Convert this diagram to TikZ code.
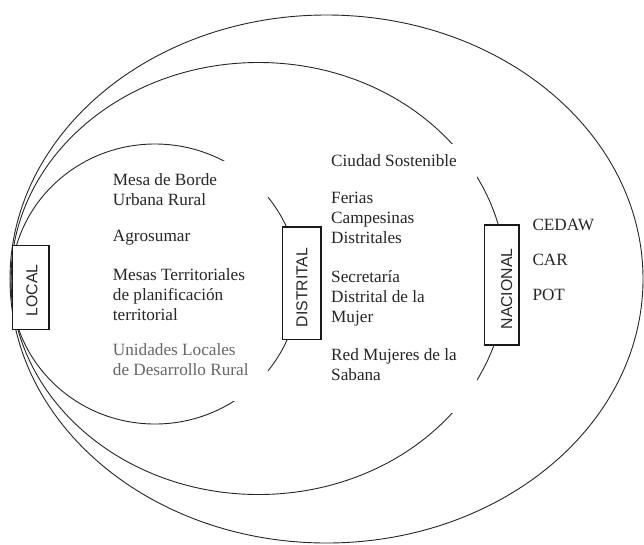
\documentclass[tikz,border=0pt]{standalone}
\usepackage{fontspec}
\setmainfont{Liberation Serif}
\newfontfamily\boxfont{Liberation Sans}
\begin{document}
\begin{tikzpicture}[x=1pt,y=-1pt,
  ell/.style={draw=black!85, line width=0.9pt},
  lvlbox/.style={draw=black!90, line width=1.3pt, fill=white, inner sep=0pt},
  lvltext/.style={font=\boxfont\fontsize{15.8}{18}\selectfont, rotate=90, inner sep=0pt, text=black!85},
  item/.style={font=\fontsize{17.2}{19.8}\selectfont, anchor=base west, align=left, inner sep=0pt, text=black!85},
  grayitem/.style={item, text=black!60}]
\useasboundingbox (0,0) rectangle (644,544);
% nested ellipses
\draw[ell] (326.5,279) ellipse [x radius=316.5, y radius=264];
\draw[ell] (258.5,278.5) ellipse [x radius=247.5, y radius=216];
\draw[ell] (155,284) ellipse [x radius=144, y radius=140];
% white text-box backgrounds
\fill[white] (105,161) rectangle (268,401);
\fill[white] (325,144) rectangle (477,413);
% level boxes
\node[lvlbox, minimum width=36.7pt, minimum height=83.6pt] (local) at (30.65,287.5) {};
\node[lvlbox, minimum width=38.3pt, minimum height=112.3pt] (distrital) at (301.85,283) {};
\node[lvlbox, minimum width=34.7pt, minimum height=120pt] (nacional) at (501.7,285) {};
\node[lvltext] (localtxt) at (32,290.5) {LOCAL};
\node[lvltext] (distritaltxt) at (302,287.5) {DISTRITAL};
\node[lvltext] (nacionaltxt) at (506.7,289) {NACIONAL};
% local items (anchor = baseline of last line)
\node[item] (l1) at (112.7,205) {Mesa de Borde\\Urbana Rural};
\node[item] (l2) at (112.7,241.5) {Agrosumar};
\node[item] (l3) at (112.7,320.3) {Mesas Territoriales\\de planificación\\territorial};
\node[grayitem] (l4) at (112.7,375) {Unidades Locales\\de Desarrollo Rural};
% distrital items
\node[item] (d1) at (331,166.7) {Ciudad Sostenible};
\node[item] (d2) at (331,243.5) {Ferias\\Campesinas\\Distritales};
\node[item] (d3) at (331,322) {Secretaría\\Distrital de la\\Mujer};
\node[item] (d4) at (331,380) {Red Mujeres de la\\Sabana};
% nacional items
\node[item] (n1) at (532.3,230) {CEDAW};
\node[item] (n2) at (532.3,265.7) {CAR};
\node[item] (n3) at (532.3,300.7) {POT};
\end{tikzpicture}
\end{document}
